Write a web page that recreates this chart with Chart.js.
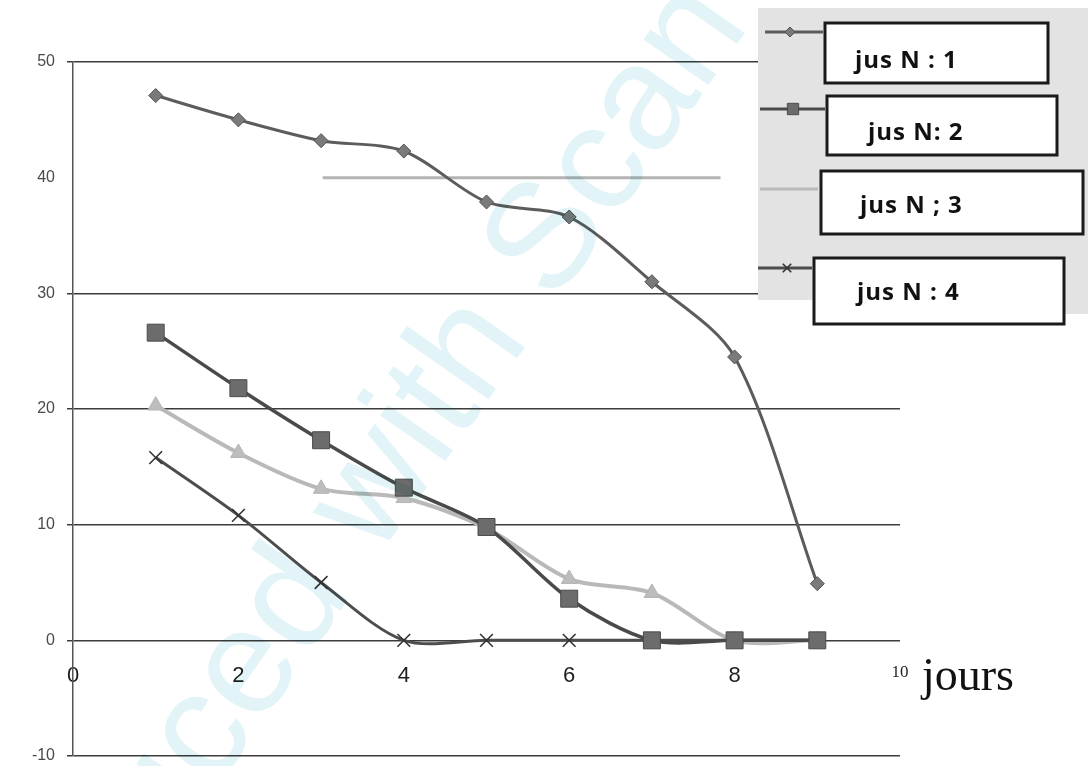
<!DOCTYPE html>
<html>
<head>
<meta charset="utf-8">
<script src="https://cdn.jsdelivr.net/npm/chart.js@4"></script>
<style>
  html, body { margin: 0; padding: 0; background: #fff; overflow: hidden; }
  #wrap { width: 1088px; height: 766px; position: relative; overflow: hidden; }
  canvas { display: block; }
</style>
</head>
<body>
<div id="wrap"><canvas id="c" width="1088" height="769"></canvas></div>
<script>
// Days of measurement
const days = [1, 2, 3, 4, 5, 6, 7, 8, 9];

// Values per juice sample
const jus1 = [47.1, 45.0, 43.2, 42.3, 37.9, 36.6, 31.0, 24.5, 4.9];
const jus2 = [26.6, 21.8, 17.3, 13.2, 9.8, 3.6, 0, 0, 0];
const jus3 = [20.3, 16.2, 13.1, 12.3, 9.7, 5.3, 4.1, 0, 0];
const jus4 = [15.8, 10.8, 5.0, 0, 0, 0, 0, 0, 0];

// Light horizontal stroke at 40 between day 3 and day 7.8
const trait40X = [3.02, 7.83];
const trait40Y = [40, 40];

const seriesNames = ['jus N : 1', 'jus N: 2', 'jus N ; 3', 'jus N : 4'];
const xTickStep = 2;
const yTickStep = 10;
const xRange = [0, 10];
const yRange = [-10, 50];
const axisTitle = 'jours';
const watermark = 'Produced with Scan';

const pts = (xs, ys) => xs.map((x, i) => ({ x: x, y: ys[i] }));

const styles = [
  { line: '#5c5c5c', fill: '#7a7a7a', border: '#4f4f4f', pointStyle: 'rectRot', radius: 7, lw: 3 },
  { line: '#4a4a4a', fill: '#6c6c6c', border: '#4a4a4a', pointStyle: 'rect', radius: 12, lw: 3.5 },
  { line: '#b9b9b9', fill: '#bdbdbd', border: '#b5b5b5', pointStyle: 'triangle', radius: 9, lw: 4 },
  { line: '#4d4d4d', fill: '#333333', border: '#333333', pointStyle: 'crossRot', radius: 9, lw: 3 }
];
const seriesValues = [jus1, jus2, jus3, jus4];

const datasets = seriesValues.map((vals, i) => ({
  label: seriesNames[i],
  data: pts(days, vals),
  borderColor: styles[i].line,
  backgroundColor: styles[i].fill,
  pointBackgroundColor: styles[i].fill,
  pointBorderColor: styles[i].border,
  pointBorderWidth: i === 3 ? 1.6 : 1,
  pointStyle: styles[i].pointStyle,
  pointRadius: styles[i].radius,
  borderWidth: styles[i].lw,
  tension: 0.3,
  fill: false
}));
datasets.push({
  label: 'trait 40',
  data: pts(trait40X, trait40Y),
  borderColor: '#b4b4b4',
  borderWidth: 3,
  pointRadius: 0,
  tension: 0,
  fill: false
});

// Boxed legend on a grey panel at the top right
const legendLayout = [
  { bx: 825, by: 23, bw: 223, bh: 60, tx: 855, ty: 68, ly: 32, lx1: 765, lx2: 823, mx: 790, mr: 5 },
  { bx: 827, by: 96, bw: 230, bh: 59, tx: 868, ty: 140, ly: 109, lx1: 760, lx2: 825, mx: 793, mr: 8 },
  { bx: 821, by: 171, bw: 262, bh: 63, tx: 860, ty: 213, ly: 189, lx1: 760, lx2: 818, mx: null, mr: 0 },
  { bx: 814, by: 258, bw: 250, bh: 66, tx: 857, ty: 300, ly: 268, lx1: 758, lx2: 812, mx: 787, mr: 6 }
];

const legendPanel = {
  id: 'legendPanel',
  afterDraw(chart) {
    const ctx = chart.ctx;
    ctx.save();
    ctx.fillStyle = '#e3e3e3';
    ctx.fillRect(758, 8, 330, 292);
    ctx.fillRect(1040, 300, 48, 14);
    legendLayout.forEach((L, i) => {
      const s = styles[i];
      // sample line
      ctx.strokeStyle = s.line;
      ctx.lineWidth = 3;
      ctx.beginPath();
      ctx.moveTo(L.lx1, L.ly);
      ctx.lineTo(L.lx2, L.ly);
      ctx.stroke();
      if (L.mx !== null) {
        ctx.fillStyle = s.fill;
        ctx.strokeStyle = s.border;
        ctx.lineWidth = i === 3 ? 1.6 : 1;
        Chart.helpers.drawPoint(ctx, { pointStyle: s.pointStyle, radius: L.mr, rotation: 0, borderWidth: ctx.lineWidth }, L.mx, L.ly);
      }
      // box
      ctx.fillStyle = '#ffffff';
      ctx.fillRect(L.bx, L.by, L.bw, L.bh);
      ctx.strokeStyle = '#1a1a1a';
      ctx.lineWidth = 3;
      ctx.strokeRect(L.bx, L.by, L.bw, L.bh);
      // label
      ctx.fillStyle = '#111';
      ctx.font = 'bold 24px "Open Sans", "Liberation Sans", sans-serif';
      ctx.letterSpacing = '1px';
      ctx.textAlign = 'left';
      ctx.textBaseline = 'alphabetic';
      ctx.fillText(seriesNames[i], L.tx, L.ty);
      ctx.letterSpacing = '0px';
    });
    ctx.restore();
  }
};

const axisLabel = {
  id: 'axisLabel',
  afterDraw(chart) {
    const ctx = chart.ctx;
    const x = chart.scales.x.getPixelForValue(xRange[1]) + 22;
    const y = chart.scales.y.getPixelForValue(0) + 50;
    ctx.save();
    ctx.fillStyle = '#111';
    ctx.font = '46px "Liberation Serif", "DejaVu Serif", serif';
    ctx.textAlign = 'left';
    ctx.textBaseline = 'alphabetic';
    ctx.fillText(axisTitle, x, y);
    ctx.restore();
  }
};

const watermarkLayer = {
  id: 'watermarkLayer',
  afterDraw(chart) {
    const ctx = chart.ctx;
    ctx.save();
    ctx.globalCompositeOperation = 'multiply';
    ctx.fillStyle = 'rgb(226, 244, 247)';
    ctx.font = '150px "Liberation Sans", sans-serif';
    ctx.textBaseline = 'middle';
    ctx.textAlign = 'left';
    const pre = ctx.measureText('Produced ').width;
    const mid = ctx.measureText('with').width;
    ctx.translate(420, 425);
    ctx.rotate(-55 * Math.PI / 180);
    ctx.fillText(watermark, -(pre + mid / 2), 0);
    ctx.restore();
  }
};

new Chart(document.getElementById('c'), {
  type: 'line',
  data: { datasets: datasets },
  plugins: [legendPanel, axisLabel, watermarkLayer],
  options: {
    responsive: false,
    animation: false,
    layout: { padding: { top: 62, bottom: 8, left: 0, right: 188 } },
    plugins: { legend: { display: false }, tooltip: { enabled: false } },
    scales: {
      x: {
        type: 'linear',
        position: { y: 0 },
        min: xRange[0],
        max: xRange[1],
        ticks: {
          stepSize: xTickStep,
          color: '#1e1e1e',
          font: c => (c.tick && c.tick.value === xRange[1])
            ? { family: 'Liberation Serif', size: 17 }
            : { family: 'Liberation Sans', size: 22 },
          padding: 22
        },
        grid: { display: true, drawOnChartArea: false, drawTicks: false },
        border: { display: false }
      },
      y: {
        min: yRange[0],
        max: yRange[1],
        afterFit(scale) { scale.width = 73; },
        ticks: {
          stepSize: yTickStep,
          color: '#4a4a4a',
          font: { family: 'Liberation Sans', size: 16, lineHeight: 0.05 },
          padding: 12
        },
        grid: {
          color: c => (c.tick && c.tick.value === 40) ? 'rgba(0,0,0,0)' : '#3c3c3c',
          lineWidth: 1.5,
          tickLength: 6
        },
        border: { color: '#555', width: 1.5 }
      }
    }
  }
});
</script>
</body>
</html>
